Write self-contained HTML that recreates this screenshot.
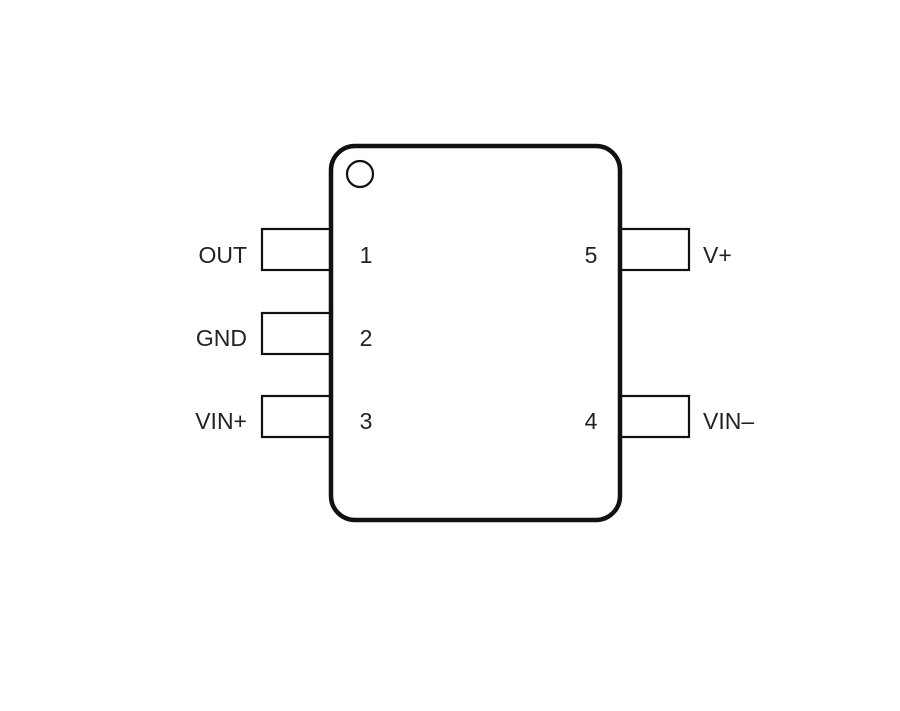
<!DOCTYPE html>
<html><head><style>body{margin:0;background:#fff}</style></head><body>
<svg width="900" height="706" xmlns="http://www.w3.org/2000/svg" font-family="Liberation Sans, sans-serif" font-size="23" fill="#222">
<rect x="0" y="0" width="900" height="706" fill="#fff"/>
<g fill="none" stroke="#111" stroke-width="2.2">
<rect x="262" y="229" width="69" height="41"/>
<rect x="262" y="313" width="69" height="41"/>
<rect x="262" y="396" width="69" height="41"/>
<rect x="620" y="229" width="69" height="41"/>
<rect x="620" y="396" width="69" height="41"/>
</g>
<rect x="331" y="146" width="289" height="374" rx="24" fill="#fff" stroke="#111" stroke-width="4.5"/>
<circle cx="360" cy="174" r="13" fill="none" stroke="#111" stroke-width="2.2"/>
<g text-anchor="end">
<text x="247" y="263">OUT</text>
<text x="247" y="346">GND</text>
<text x="247" y="429">VIN+</text>
</g>
<g text-anchor="middle">
<text x="366" y="263">1</text>
<text x="366" y="346">2</text>
<text x="366" y="429">3</text>
<text x="591" y="263">5</text>
<text x="591" y="429">4</text>
</g>
<text x="703" y="263">V+</text>
<text x="703" y="429">VIN–</text>
</svg>
</body></html>
